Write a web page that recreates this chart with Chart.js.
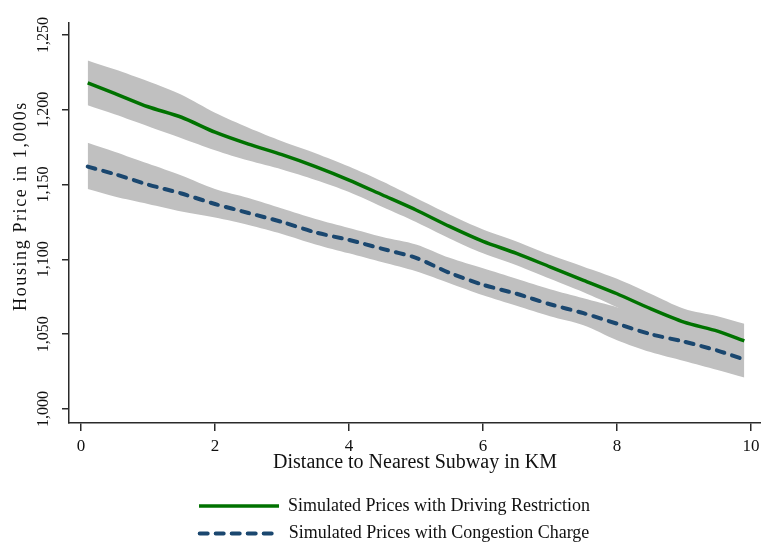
<!DOCTYPE html>
<html>
<head>
<meta charset="utf-8">
<script src="https://cdn.jsdelivr.net/npm/chart.js@4/dist/chart.umd.min.js"></script>
<style>
  html, body { margin: 0; padding: 0; background: #ffffff; }
  #wrap { width: 761px; height: 545px; }
</style>
</head>
<body>
<div id="wrap"><canvas id="c" width="761" height="545"></canvas></div>
<script>
// ---- data ----
const distanceKm = [0.1, 0.5, 1, 1.5, 2, 2.5, 3, 3.5, 4, 4.5, 5, 5.5, 6, 6.5, 7, 7.5, 8, 8.5, 9, 9.5, 9.9];
const drivingRestriction = [1218, 1211, 1202, 1195, 1185, 1177, 1170, 1162, 1153, 1143, 1133, 1122, 1112, 1104, 1095, 1086, 1077, 1067, 1058, 1052, 1045.5];
const drivingUpper = [1233, 1227, 1219, 1210, 1198, 1188, 1179, 1171, 1162, 1152, 1141, 1130, 1120, 1112, 1103, 1095, 1087, 1077, 1067, 1062, 1057];
const drivingLower = [1203, 1197, 1189, 1181, 1173, 1166, 1160, 1153, 1145, 1135, 1125, 1114, 1104, 1096, 1087, 1078, 1068, 1057, 1047, 1039, 1033];
const congestionCharge = [1162, 1157, 1150, 1144, 1137, 1131, 1125, 1118, 1113, 1107, 1101, 1091, 1083, 1077, 1070, 1064, 1057, 1050, 1045, 1039, 1033];
const congestionUpper = [1178, 1172, 1164, 1156, 1147, 1141, 1134, 1127, 1121, 1115, 1110, 1101, 1094, 1087, 1080, 1074, 1068, 1061, 1055, 1049, 1045];
const congestionLower = [1147, 1142, 1137, 1132, 1128, 1123, 1117, 1110, 1104, 1098, 1092, 1084, 1076, 1069, 1062, 1056, 1046, 1038, 1032, 1026, 1021];
const xTicks = [0, 2, 4, 6, 8, 10];
const yTicks = [1000, 1050, 1100, 1150, 1200, 1250];
const seriesNames = ['Simulated Prices with Driving Restriction', 'Simulated Prices with Congestion Charge'];
const xTitle = 'Distance to Nearest Subway in KM';
const yTitle = 'Housing Price in 1,000s';

// ---- styling ----
const SERIF = '"Liberation Serif", "Times New Roman", serif';
const GREEN = '#007200';
const NAVY = '#1a476f';
const BAND = '#c0c0c0';
const AXIS = '#2a2a2a';
const TEXT = '#111111';

const pts = arr => distanceKm.map((x, i) => ({ x: x, y: arr[i] }));

const yTitlePlugin = {
  id: 'yTitleDraw',
  afterDraw(chart) {
    const ctx = chart.ctx;
    ctx.save();
    ctx.translate(21, 206);
    ctx.rotate(-Math.PI / 2);
    ctx.font = '18px ' + SERIF;
    ctx.fillStyle = TEXT;
    ctx.textAlign = 'center';
    ctx.textBaseline = 'middle';
    if ('letterSpacing' in ctx) ctx.letterSpacing = '1.6px';
    ctx.fillText(yTitle, 0, 0);
    ctx.restore();
  }
};

new Chart(document.getElementById('c'), {
  type: 'line',
  data: {
    datasets: [
      { label: seriesNames[0], data: pts(drivingRestriction), borderColor: GREEN, borderWidth: 3.5,
        pointRadius: 0, tension: 0.25, fill: false },
      { label: seriesNames[1], data: pts(congestionCharge), borderColor: NAVY, borderWidth: 4,
        borderDash: [8, 8], borderCapStyle: 'round', pointRadius: 0, tension: 0.25, fill: false },
      { label: 'dr_upper', data: pts(drivingUpper), borderWidth: 0, borderColor: 'rgba(0,0,0,0)',
        backgroundColor: BAND, pointRadius: 0, tension: 0.3, fill: '+1' },
      { label: 'dr_lower', data: pts(drivingLower), borderWidth: 0, borderColor: 'rgba(0,0,0,0)',
        pointRadius: 0, tension: 0.3, fill: false },
      { label: 'cc_upper', data: pts(congestionUpper), borderWidth: 0, borderColor: 'rgba(0,0,0,0)',
        backgroundColor: BAND, pointRadius: 0, tension: 0.3, fill: '+1' },
      { label: 'cc_lower', data: pts(congestionLower), borderWidth: 0, borderColor: 'rgba(0,0,0,0)',
        pointRadius: 0, tension: 0.3, fill: false }
    ]
  },
  options: {
    responsive: false,
    animation: false,
    devicePixelRatio: 1,
    layout: { padding: { top: 23, left: 28, right: 0, bottom: 0 } },
    scales: {
      x: {
        type: 'linear',
        min: -0.179,
        max: 10.149,
        afterBuildTicks: s => { s.ticks = xTicks.map(v => ({ value: v })); },
        afterFit: s => { s.height = 64.5; s.paddingLeft = 0; s.paddingRight = 0; },
        grid: { drawOnChartArea: false, drawTicks: true, tickLength: 8, color: AXIS, lineWidth: 1.5 },
        border: { display: true, color: AXIS, width: 1.5 },
        ticks: { color: TEXT, font: { family: SERIF, size: 17 }, padding: 5, maxRotation: 0, autoSkip: false,
          callback: v => String(v) },
        title: { display: true, text: xTitle, color: TEXT, font: { family: SERIF, size: 20 },
          padding: { top: 0, bottom: 12.5 } }
      },
      y: {
        type: 'linear',
        min: 990.6,
        max: 1258,
        afterBuildTicks: s => { s.ticks = yTicks.map(v => ({ value: v })); },
        afterFit: s => { s.width = 41; s.paddingTop = 0; s.paddingBottom = 0; },
        grid: { drawOnChartArea: false, drawTicks: true, tickLength: 7, color: AXIS, lineWidth: 1.5 },
        border: { display: true, color: AXIS, width: 1.5 },
        ticks: { color: TEXT, font: { family: SERIF, size: 16 }, padding: 0, minRotation: 90, maxRotation: 90,
          crossAlign: 'center', autoSkip: false,
          callback: v => Number(v).toLocaleString('en-US') }
      }
    },
    plugins: {
      title: { display: false },
      tooltip: { enabled: false },
      legend: {
        display: true,
        position: 'bottom',
        maxHeight: 57.5,
        labels: {
          usePointStyle: true,
          pointStyleWidth: 80,
          boxHeight: 18,
          padding: 9.5,
          color: TEXT,
          font: { family: SERIF, size: 18 },
          generateLabels: chart => chart.data.datasets.slice(0, 2).map((ds, i) => ({
            text: ds.label,
            fillStyle: ds.borderColor,
            strokeStyle: ds.borderColor,
            lineWidth: ds.borderWidth,
            lineDash: ds.borderDash || [],
            lineCap: ds.borderCapStyle || 'butt',
            pointStyle: 'line',
            hidden: false,
            datasetIndex: i,
            fontColor: TEXT
          }))
        }
      }
    }
  },
  plugins: [yTitlePlugin]
});
</script>
</body>
</html>
